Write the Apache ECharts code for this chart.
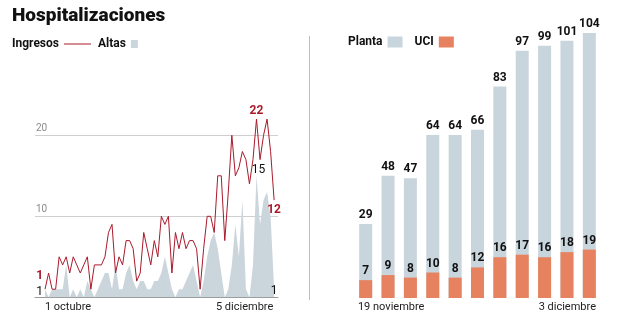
<!DOCTYPE html>
<html><head><meta charset="utf-8">
<script src="https://cdn.jsdelivr.net/npm/echarts@6/dist/echarts.min.js"></script>
<style>html,body{margin:0;padding:0;background:#fff}#c{width:624px;height:335px}</style>
</head><body><div id="c"></div>
<script>
// ---- Left panel: daily values, 1 octubre .. 5 diciembre ----
const ingresos = [1,3,1,1,5,4,5,3,5,4,3,4,5,1,
  4,4,4,5,8,9,3,5,4,7,7,6,2,
  3,8,6,4,7,5,10,9,10,3,
  8,6,8,6,7,7,6,1,6,10,10,8,
  15,15,7,13,20,15,16,18,17,14,17,22,17,20,22,18,12];
const altas = [1,0,1,1,1,1,4,0,1,0,1,0,2,1,
  0,1,2,3,3,1,4,1,1,3,4,2,1,
  2,2,1,1,2,2,3,5,3,1,
  0,1,1,2,3,4,2,0,2,5,7,8,
  6,3,0,1,4,9,5,12,1,0,4,15,9,12,13,10,1];
const ticksIzq = ['1 octubre', '5 diciembre'];
const yTicksIzq = [10, 20];

// ---- Right panel ----
const diasBarras = ['19 noviembre','20 noviembre','23 noviembre','24 noviembre','25 noviembre',
  '26 noviembre','27 noviembre','30 noviembre','1 diciembre','2 diciembre','3 diciembre'];
const planta = [29,48,47,64,64,66,83,97,99,101,104];
const uci = [7,9,8,10,8,12,16,17,16,18,19];

const FONT = 'Roboto, sans-serif';
const RED = '#aa1a2c';
const GRAY_AREA = '#cbd5dc';
const PLANTA_C = '#c9d5dd';
const UCI_C = '#e6825f';
const last = ingresos.length - 1;

const lblRed = { show: true, color: RED, fontWeight: 'bold', fontSize: 12, fontFamily: FONT };
const lblBlk = { show: true, color: '#111', fontSize: 12, fontFamily: FONT };

const ingresosData = ingresos.map((v, i) => {
  const d = { value: [i, v] };
  if (i === 0) d.label = Object.assign({}, lblRed, { position: 'left', distance: 2, offset: [0, -13] });
  if (i === 60) d.label = Object.assign({}, lblRed, { position: 'top', distance: 2 });
  if (i === last) d.label = Object.assign({}, lblRed, { position: 'bottom', distance: 4 });
  return d;
});
const altasData = altas.map((v, i) => {
  const d = { value: [i, v] };
  if (i === 0) d.label = Object.assign({}, lblBlk, { position: 'left', distance: 2, offset: [0, 3] });
  if (i === 60) d.label = Object.assign({}, lblBlk, { position: 'top', distance: 0, offset: [2, 0] });
  if (i === last) d.label = Object.assign({}, lblBlk, { position: 'inside', offset: [0, 2] });
  return d;
});

const chart = echarts.init(document.getElementById('c'), null, { renderer: 'canvas' });
chart.setOption({
  backgroundColor: '#fff',
  animation: false,
  textStyle: { fontFamily: FONT },
  title: {
    text: 'Hospitalizaciones', left: 12, top: 7, padding: 0,
    textStyle: { fontSize: 19, fontWeight: 900, color: '#111', fontFamily: FONT }
  },
  legend: [
    { data: ['Ingresos'], left: 12, top: 38, padding: 0, align: 'right', itemWidth: 27, itemHeight: 4,
      selectedMode: false, itemStyle: { color: 'rgba(0,0,0,0)', borderWidth: 0 },
      lineStyle: { width: 1, color: RED },
      textStyle: { fontSize: 12, fontWeight: 'bold', color: '#111', fontFamily: FONT } },
    { data: ['Altas'], left: 98, top: 38, padding: 0, align: 'right', icon: 'rect', itemWidth: 7, itemHeight: 8,
      selectedMode: false,
      textStyle: { fontSize: 12, fontWeight: 'bold', color: '#111', fontFamily: FONT } },
    { data: ['Planta', 'UCI'], left: 348, top: 36, padding: 0, align: 'right', icon: 'rect',
      itemWidth: 15, itemHeight: 11, itemGap: 12, selectedMode: false,
      textStyle: { fontSize: 12, fontWeight: 'bold', color: '#111', fontFamily: FONT } }
  ],
  graphic: [
    { type: 'line', shape: { x1: 309.5, y1: 36, x2: 309.5, y2: 300 }, style: { stroke: '#bdbdbd', lineWidth: 1 } }
  ],
  grid: [
    { left: 35, right: 346, top: 94.8, bottom: 37.7, outerBoundsMode: 'none', containLabel: false },
    { left: 354.5, right: 23.5, top: 17.7, bottom: 37, outerBoundsMode: 'none', containLabel: false }
  ],
  xAxis: [
    { type: 'value', gridIndex: 0, min: -2.85, max: 66.1,
      axisLine: { show: true, onZero: false, lineStyle: { color: '#9a9a9a', width: 1 } },
      axisTick: { show: false }, splitLine: { show: false },
      axisLabel: {
        customValues: [0, last], margin: 4, color: '#222', fontSize: 11, fontFamily: FONT,
        formatter: v => v === 0 ? '{l|' + ticksIzq[0] + '}' : '{r|' + ticksIzq[1] + '}',
        rich: { l: { padding: [0, 0, 0, 46], fontSize: 11, color: '#222', fontFamily: FONT },
                r: { padding: [0, 59, 0, 0], fontSize: 11, color: '#222', fontFamily: FONT } }
      }
    },
    { type: 'category', gridIndex: 1, data: diasBarras, boundaryGap: true,
      axisLine: { show: false }, axisTick: { show: false },
      axisLabel: {
        interval: (i) => i === 0 || i === diasBarras.length - 1, margin: 4,
        color: '#222', fontSize: 11, fontFamily: FONT,
        formatter: (v, i) => i === 0 ? '{l|' + v + '}' : '{r|' + v + '}',
        rich: { l: { padding: [0, 0, 0, 51], fontSize: 11, color: '#222', fontFamily: FONT },
                r: { padding: [0, 44, 0, 0], fontSize: 11, color: '#222', fontFamily: FONT } }
      }
    }
  ],
  yAxis: [
    { type: 'value', gridIndex: 0, min: 0, max: 25, interval: 10,
      axisLine: { show: false }, axisTick: { show: false },
      splitLine: { show: true, showMinLine: false, showMaxLine: false, lineStyle: { color: '#cfcfcf', width: 1 } },
      axisLabel: { inside: true, margin: 1, align: 'left', verticalAlign: 'bottom', padding: [0, 0, 2, 0],
        color: '#8a8a8a', fontSize: 10, fontFamily: FONT, showMinLabel: false, showMaxLabel: false,
        formatter: v => yTicksIzq.indexOf(v) >= 0 ? String(v) : '' } },
    { type: 'value', gridIndex: 1, min: 0, max: 110, show: false, splitLine: { show: false } }
  ],
  series: [
    { name: 'Altas', type: 'line', xAxisIndex: 0, yAxisIndex: 0, data: altasData,
      color: GRAY_AREA, symbol: 'circle', symbolSize: 0, showSymbol: true, showAllSymbol: true,
      lineStyle: { width: 0, color: GRAY_AREA }, areaStyle: { color: GRAY_AREA, opacity: 1 },
      itemStyle: { color: GRAY_AREA }, z: 2, silent: true },
    { name: 'Ingresos', type: 'line', xAxisIndex: 0, yAxisIndex: 0, data: ingresosData,
      color: RED, symbol: 'circle', symbolSize: 0, showSymbol: true, showAllSymbol: true,
      lineStyle: { width: 1, color: RED }, itemStyle: { color: RED }, z: 3, silent: true },
    { name: 'Planta', type: 'bar', xAxisIndex: 1, yAxisIndex: 1, data: planta, barWidth: 13,
      itemStyle: { color: PLANTA_C }, color: PLANTA_C,
      label: { show: true, position: 'top', distance: 3, color: '#111', fontWeight: 'bold', fontSize: 12, fontFamily: FONT } },
    { name: 'UCI', type: 'bar', xAxisIndex: 1, yAxisIndex: 1, data: uci, barWidth: 13, barGap: '-100%',
      itemStyle: { color: UCI_C }, color: UCI_C,
      label: { show: true, position: 'top', distance: 3, color: '#111', fontWeight: 'bold', fontSize: 12, fontFamily: FONT } }
  ]
});
</script></body></html>
